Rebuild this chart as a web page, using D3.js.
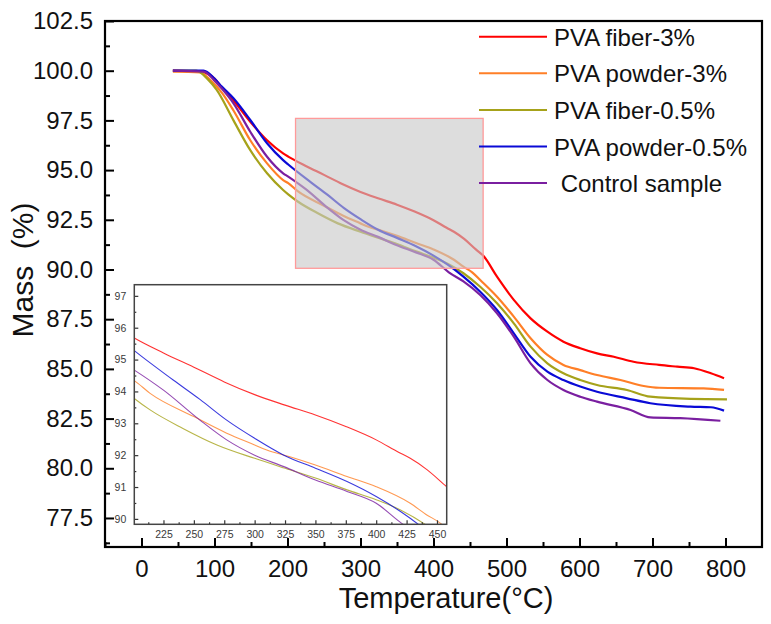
<!DOCTYPE html>
<html>
<head>
<meta charset="utf-8">
<script src="https://cdn.jsdelivr.net/npm/d3@7"></script>
<style>
  body { margin: 0; background: #fff; }
  svg { font-family: Arial, "Liberation Sans", sans-serif; }
</style>
</head>
<body>
<svg width="771" height="624"></svg>
<script>
// series names and colours
const seriesNames = ["PVA fiber-3%", "PVA powder-3%", "PVA fiber-0.5%", "PVA powder-0.5%", " Control sample"];
const seriesColors = ["#ff0000", "#ff7f27", "#a6a21a", "#0a0ad6", "#7a1fa0"];

// [temperature, mass %]
const fiber3 = [[43,100],[80,99.95],[100,99.6],[110,99.15],[126,98.5],[149,97.43],[172,96.5],[194,95.84],[201,95.68],[225,95.21],[250,94.76],[275,94.3],[300,93.9],[325,93.57],[350,93.26],[375,92.9],[400,92.48],[418,92.1],[428,91.9],[442,91.54],[458,91.01],[468,90.7],[487,89.64],[510,88.47],[533,87.54],[556,86.87],[578,86.37],[601,86.04],[624,85.78],[647,85.61],[674,85.36],[709,85.2],[734,85.11],[757,85.03],[780,84.78],[798,84.53]];
const powder3 = [[43,99.95],[80,99.92],[95,99.5],[110,98.9],[126,98.0],[149,96.5],[172,95.34],[194,94.5],[201,94.34],[214,93.94],[250,93.21],[277,92.69],[300,92.32],[310,92.16],[329,91.95],[350,91.69],[376,91.33],[400,91.01],[428,90.49],[441,90.14],[453,89.86],[464,89.47],[487,88.63],[510,87.63],[533,86.54],[556,85.7],[578,85.2],[601,84.94],[624,84.69],[656,84.44],[688,84.14],[709,84.05],[770,84.02],[798,83.94]];
const fiber05 = [[43,100],[75,100],[90,99.6],[103,99.03],[126,97.5],[149,96.0],[172,94.84],[194,94.0],[201,93.78],[214,93.42],[241,92.84],[269,92.32],[300,91.9],[329,91.54],[350,91.28],[376,90.91],[400,90.6],[420,90.28],[441,89.81],[464,89.13],[487,88.3],[510,87.29],[533,86.12],[556,85.28],[578,84.78],[601,84.44],[624,84.19],[665,83.94],[697,83.6],[752,83.49],[802,83.47]];
const powder05 = [[43,100],[85,100],[100,99.6],[110,99.2],[126,98.61],[149,97.52],[172,96.35],[194,95.5],[201,95.28],[233,94.36],[255,93.75],[277,93.1],[300,92.53],[324,92.0],[350,91.59],[376,91.17],[400,90.7],[420,90.23],[441,89.64],[464,88.88],[487,87.96],[510,86.79],[533,85.61],[556,84.86],[578,84.44],[601,84.11],[624,83.85],[665,83.52],[697,83.27],[752,83.1],[780,83.07],[798,82.9]];
const control = [[43,100],[85,99.95],[100,99.5],[110,99.1],[126,98.36],[149,96.93],[172,95.67],[194,94.84],[201,94.67],[225,94.04],[255,93.1],[277,92.48],[300,92.0],[324,91.64],[350,91.22],[376,90.86],[400,90.49],[421,89.86],[441,89.4],[464,88.72],[487,87.8],[510,86.62],[533,85.28],[556,84.44],[578,83.94],[601,83.6],[624,83.35],[670,82.93],[697,82.56],[738,82.52],[793,82.39]];
const allSeries = [fiber3, powder3, fiber05, powder05, control];

// ticks
const xTicks = [0, 100, 200, 300, 400, 500, 600, 700, 800];
const xMinor = [-50, 50, 150, 250, 350, 450, 550, 650, 750];
const yTicks = [77.5, 80, 82.5, 85, 87.5, 90, 92.5, 95, 97.5, 100, 102.5];
const yMinor = [76.25, 78.75, 81.25, 83.75, 86.25, 88.75, 91.25, 93.75, 96.25, 98.75, 101.25];
const insetXTicks = [225, 250, 275, 300, 325, 350, 375, 400, 425, 450];
const insetXMinor = [212.5, 237.5, 262.5, 287.5, 312.5, 337.5, 362.5, 387.5, 412.5, 437.5];
const insetYTicks = [90, 91, 92, 93, 94, 95, 96, 97];
const insetYMinor = [90.5, 91.5, 92.5, 93.5, 94.5, 95.5, 96.5];

// zoomed region marked on the main plot
const zoomTemp = [211, 468];
const zoomMass = [90.06, 97.6];

const svg = d3.select("svg");

const plot = { left: 105, right: 762, top: 21, bottom: 547 };
const xScaler = d3.scaleLinear().domain([-50, 850]).range([plot.left, plot.right]);
const yScaler = d3.scaleLinear().domain([76.04, 102.5]).range([plot.bottom, plot.top]);

const inset = { left: 134.3, right: 446.7, top: 284.7, bottom: 524.3 };
const ixScaler = d3.scaleLinear().domain([201, 458]).range([inset.left, inset.right]);
const iyScaler = d3.scaleLinear().domain([89.83, 97.35]).range([inset.bottom, inset.top]);

const defs = svg.append("defs");
defs.append("clipPath").attr("id", "mainClip")
  .append("rect")
  .attr("x", plot.left).attr("y", plot.top)
  .attr("width", plot.right - plot.left).attr("height", plot.bottom - plot.top);
defs.append("clipPath").attr("id", "insetClip")
  .append("rect")
  .attr("x", inset.left).attr("y", inset.top)
  .attr("width", inset.right - inset.left).attr("height", inset.bottom - inset.top);

// main curves
const mainLine = d3.line()
  .x((d) => xScaler(d[0]))
  .y((d) => yScaler(d[1]))
  .curve(d3.curveMonotoneX);

svg.append("g")
  .attr("clip-path", "url(#mainClip)")
  .selectAll("path")
  .data(allSeries)
  .join("path")
  .attr("d", mainLine)
  .attr("fill", "none")
  .attr("stroke", (d, i) => seriesColors[i])
  .attr("stroke-width", 2.2);

// grey zoom box over the curves
svg.append("rect")
  .attr("x", xScaler(zoomTemp[0]))
  .attr("y", yScaler(zoomMass[1]))
  .attr("width", xScaler(zoomTemp[1]) - xScaler(zoomTemp[0]))
  .attr("height", yScaler(zoomMass[0]) - yScaler(zoomMass[1]))
  .attr("fill", "#c8c8c8")
  .attr("fill-opacity", 0.62)
  .attr("stroke", "#ff9a9a")
  .attr("stroke-width", 1.3);

// main axes, ticks pointing inward
const yAxisGroup = svg.append("g").attr("transform", `translate(${plot.left},0)`);
yAxisGroup.call(d3.axisLeft(yScaler).tickValues(yTicks).tickSize(-9).tickPadding(12)
  .tickFormat(d3.format(".1f")));
const yMinorGroup = svg.append("g").attr("transform", `translate(${plot.left},0)`);
yMinorGroup.call(d3.axisLeft(yScaler).tickValues(yMinor).tickSize(-5).tickFormat(""));

const xAxisGroup = svg.append("g").attr("transform", `translate(0,${plot.bottom})`);
xAxisGroup.call(d3.axisBottom(xScaler).tickValues(xTicks).tickSize(-9).tickPadding(13));
const xMinorGroup = svg.append("g").attr("transform", `translate(0,${plot.bottom})`);
xMinorGroup.call(d3.axisBottom(xScaler).tickValues(xMinor).tickSize(-5).tickFormat(""));

[yAxisGroup, yMinorGroup, xAxisGroup, xMinorGroup].forEach((g) => {
  g.select(".domain").remove();
  g.selectAll("line").attr("stroke", "#000").attr("stroke-width", 2);
  g.selectAll("text").attr("font-size", 24).attr("fill", "#111")
    .attr("font-family", "Arial, 'Liberation Sans', sans-serif");
});

svg.append("rect")
  .attr("x", plot.left).attr("y", plot.top)
  .attr("width", plot.right - plot.left).attr("height", plot.bottom - plot.top)
  .attr("fill", "none")
  .attr("stroke", "#000")
  .attr("stroke-width", 2.2);

// inset
svg.append("rect")
  .attr("x", inset.left).attr("y", inset.top)
  .attr("width", inset.right - inset.left).attr("height", inset.bottom - inset.top)
  .attr("fill", "#fff");

const insetLine = d3.line()
  .x((d) => ixScaler(d[0]))
  .y((d) => iyScaler(d[1]))
  .curve(d3.curveMonotoneX);

svg.append("g")
  .attr("clip-path", "url(#insetClip)")
  .selectAll("path")
  .data(allSeries)
  .join("path")
  .attr("d", insetLine)
  .attr("fill", "none")
  .attr("stroke", (d, i) => seriesColors[i])
  .attr("stroke-opacity", 0.8)
  .attr("stroke-width", 1.1);

const iyAxis = svg.append("g").attr("transform", `translate(${inset.left},0)`);
iyAxis.call(d3.axisLeft(iyScaler).tickValues(insetYTicks).tickSize(-4).tickPadding(8));
const iyMinor = svg.append("g").attr("transform", `translate(${inset.left},0)`);
iyMinor.call(d3.axisLeft(iyScaler).tickValues(insetYMinor).tickSize(-2).tickFormat(""));
const ixAxis = svg.append("g").attr("transform", `translate(0,${inset.bottom})`);
ixAxis.call(d3.axisBottom(ixScaler).tickValues(insetXTicks).tickSize(-4).tickPadding(6));
const ixMinor = svg.append("g").attr("transform", `translate(0,${inset.bottom})`);
ixMinor.call(d3.axisBottom(ixScaler).tickValues(insetXMinor).tickSize(-2).tickFormat(""));

[iyAxis, iyMinor, ixAxis, ixMinor].forEach((g) => {
  g.select(".domain").remove();
  g.selectAll("line").attr("stroke", "#333").attr("stroke-width", 1.2);
  g.selectAll("text").attr("font-size", 10.5).attr("fill", "#3a3a3a")
    .attr("font-family", "Arial, 'Liberation Sans', sans-serif");
});

svg.append("rect")
  .attr("x", inset.left).attr("y", inset.top)
  .attr("width", inset.right - inset.left).attr("height", inset.bottom - inset.top)
  .attr("fill", "none")
  .attr("stroke", "#444")
  .attr("stroke-width", 1.5);

// legend
const legend = svg.append("g").attr("transform", "translate(479,36.7)");
const legendItems = legend.selectAll("g")
  .data(seriesNames)
  .join("g")
  .attr("transform", (d, i) => `translate(0,${i * 36.6})`);
legendItems.append("line")
  .attr("x1", 0).attr("x2", 68)
  .attr("stroke", (d, i) => seriesColors[i])
  .attr("stroke-width", 2);
legendItems.append("text")
  .attr("x", 75)
  .attr("y", 9)
  .attr("font-size", 24)
  .attr("fill", "#111")
  .style("white-space", "pre")
  .text((d) => d);

// axis titles
svg.append("text")
  .attr("x", 446)
  .attr("y", 608)
  .attr("text-anchor", "middle")
  .attr("font-size", 29)
  .attr("fill", "#111")
  .text("Temperature(°C)");

svg.append("text")
  .attr("transform", "translate(33,270) rotate(-90)")
  .attr("text-anchor", "middle")
  .attr("font-size", 30)
  .attr("fill", "#111")
  .style("white-space", "pre")
  .text("Mass  (%)");
</script>
</body>
</html>
